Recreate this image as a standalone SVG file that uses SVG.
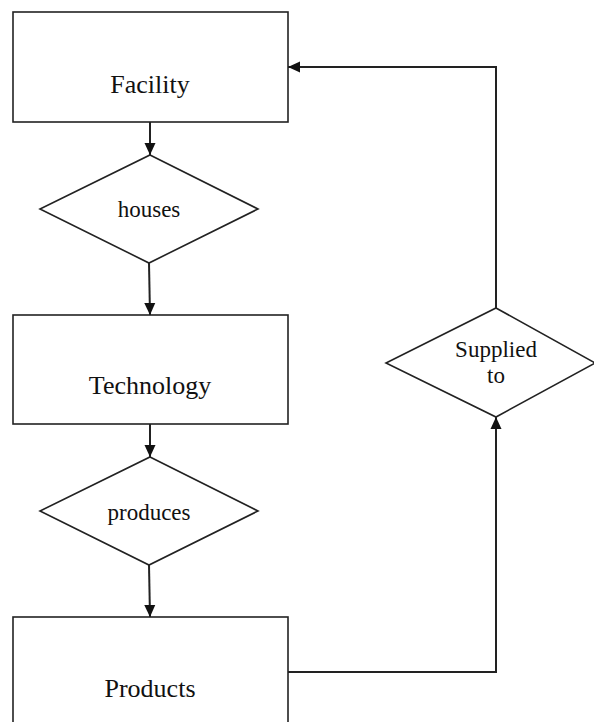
<svg xmlns="http://www.w3.org/2000/svg" width="594" height="722" viewBox="0 0 594 722">
  <style>
    .box { fill: #ffffff; stroke: #222222; stroke-width: 1.6; }
    .dia { fill: #ffffff; stroke: #222222; stroke-width: 1.6; }
    .edge { fill: none; stroke: #222222; stroke-width: 2; }
    .lbl { fill: #111111; text-anchor: middle; }
    .big { font-size: 26px; }
    .small { font-size: 23px; }
  </style>
  <defs>
    <marker id="arrow" markerUnits="userSpaceOnUse" markerWidth="12" markerHeight="12" viewBox="0 0 12 12" refX="12" refY="6" orient="auto">
      <path d="M0,0.5 L12,6 L0,11.5 Z" fill="#111111"/>
    </marker>
  </defs>

  <rect width="594" height="722" fill="#ffffff"/>

  <!-- connectors -->
  <g id="connectors">
    <path class="edge" d="M150,122 L150,155" marker-end="url(#arrow)"/>
    <path class="edge" d="M149,263 L150,315" marker-end="url(#arrow)"/>
    <path class="edge" d="M150,424 L150,457" marker-end="url(#arrow)"/>
    <path class="edge" d="M149,565 L150,617" marker-end="url(#arrow)"/>
    <path class="edge" d="M288,672 L496,672 L496,417" marker-end="url(#arrow)"/>
    <path class="edge" d="M496,308 L496,67 L288,67" marker-end="url(#arrow)"/>
  </g>

  <!-- nodes -->
  <g font-family="'Liberation Serif', 'DejaVu Serif', serif">
    <g id="facility">
      <rect class="box" x="13" y="12" width="275" height="110"/>
      <text class="lbl big" x="150" y="93">Facility</text>
    </g>

    <g id="houses">
      <polygon class="dia" points="150,155 258,209 149,263 40,209"/>
      <text class="lbl small" x="149" y="217">houses</text>
    </g>

    <g id="technology">
      <rect class="box" x="13" y="315" width="275" height="109"/>
      <text class="lbl big" x="150" y="394">Technology</text>
    </g>

    <g id="produces">
      <polygon class="dia" points="150,457 258,511 149,565 40,511"/>
      <text class="lbl small" x="149" y="520">produces</text>
    </g>

    <g id="products">
      <rect class="box" x="13" y="617" width="275" height="120"/>
      <text class="lbl big" x="150" y="697">Products</text>
    </g>

    <g id="supplied-to">
      <polygon class="dia" points="496,308 595,363 496,417 386,363"/>
      <text class="lbl small" x="496" y="357">Supplied</text>
      <text class="lbl small" x="496" y="383">to</text>
    </g>
  </g>
</svg>
